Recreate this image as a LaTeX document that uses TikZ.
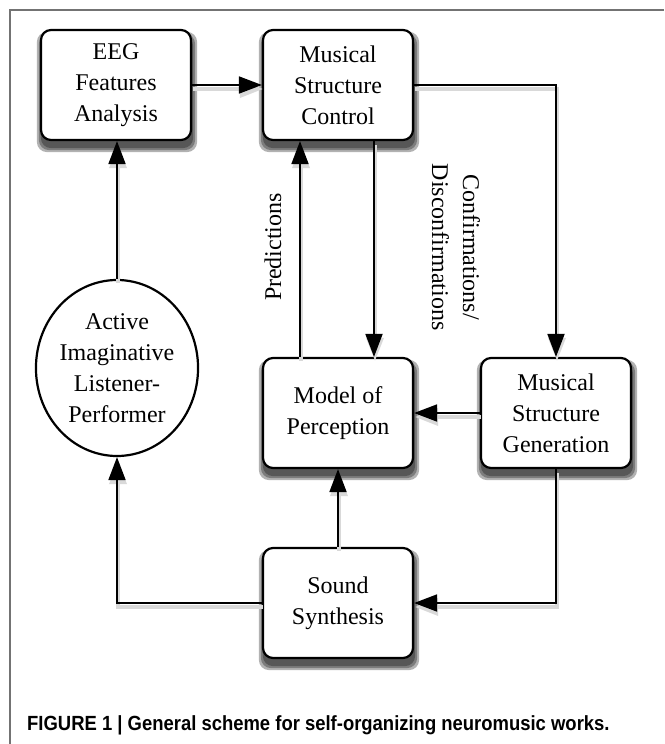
\documentclass[tikz,border=0pt]{standalone}
\usepackage{fontspec}
\setmainfont{Liberation Serif}
\newfontfamily\capfont{Liberation Sans}
\usetikzlibrary{arrows.meta,shapes.geometric,backgrounds}

\begin{document}
\begin{tikzpicture}[x=1pt,y=-1pt,
  lbl/.style={font=\fontsize{24}{31}\selectfont, align=center, inner sep=0pt},
  box/.style={lbl, draw, line width=2.2pt, rounded corners=10pt, fill=white,
    minimum width=150pt, minimum height=110pt},
  oval/.style={lbl, ellipse, draw, line width=2.2pt, fill=white,
    minimum width=148pt, minimum height=176pt},
  conn/.style={line width=1.8pt, -{Triangle[length=23pt,width=17pt]},
    preaction={draw=black!15, line width=3.5pt, transform canvas={shift={(1pt,-4pt)}}}},
  shadowlayer/.style={fill=black, opacity=0.3, rounded corners=10pt},
  frame/.style={draw=black!55, line width=1.5pt}
]
\useasboundingbox (0,0) rectangle (664,744);
\draw[frame] (10,744) -- (10,10) -- (664,10);

\node[box] (eeg) at (116,85) {EEG\\Features\\Analysis};
\node[box] (msc) at (338,85) {Musical\\Structure\\Control};
\node[box] (mop) at (338,413) {Model of\\Perception};
\node[box] (msg) at (556,413) {Musical\\Structure\\Generation};
\node[box] (snd) at (338,603) {Sound\\Synthesis};
\node[oval] (ail) at (117,368) {Active\\Imaginative\\Listener-\\Performer};

\begin{scope}[on background layer]
  \foreach \b in {eeg,msc,mop,msg,snd} {
    \foreach \e in {0,2,4} {
      \fill[shadowlayer] ([shift={(1pt-\e pt,-7pt-\e pt)}]\b.south west)
        rectangle ([shift={(1pt+\e pt,-7pt+\e pt)}]\b.north east);
    }
  }
\end{scope}

\coordinate (c1) at (556,85);
\coordinate (c2) at (556,603);
\coordinate (c3) at (117,603);

\draw[conn] (eeg.east) -- (msc.west);
\draw[conn] (ail.north) -- (eeg.south -| ail.north);
\draw[conn] (msc.east) -- (c1) -- (msg.north);
\draw[conn] (msc.south -| 374,0) -- (mop.north -| 374,0);
\draw[conn] (mop.north -| 300,0) -- (msc.south -| 300,0);
\draw[conn] (msg.west) -- (mop.east);
\draw[conn] (msg.south) -- (c2) -- (snd.east);
\draw[conn] (snd.north) -- (mop.south);
\draw[conn] (snd.west) -- (c3) -- (ail.south);

\node[lbl, rotate=90] (pred) at (273,247) {Predictions};
\node[lbl, rotate=-90] (conf) at (456,247) {Confirmations/\\Disconfirmations};

\node[anchor=base west, inner sep=0pt, font=\capfont\bfseries\fontsize{20.5}{24}\selectfont] (cap) at (27,730) {\scalebox{0.9}[1]{FIGURE 1 | General scheme for self-organizing neuromusic works.}};
\end{tikzpicture}
\end{document}
